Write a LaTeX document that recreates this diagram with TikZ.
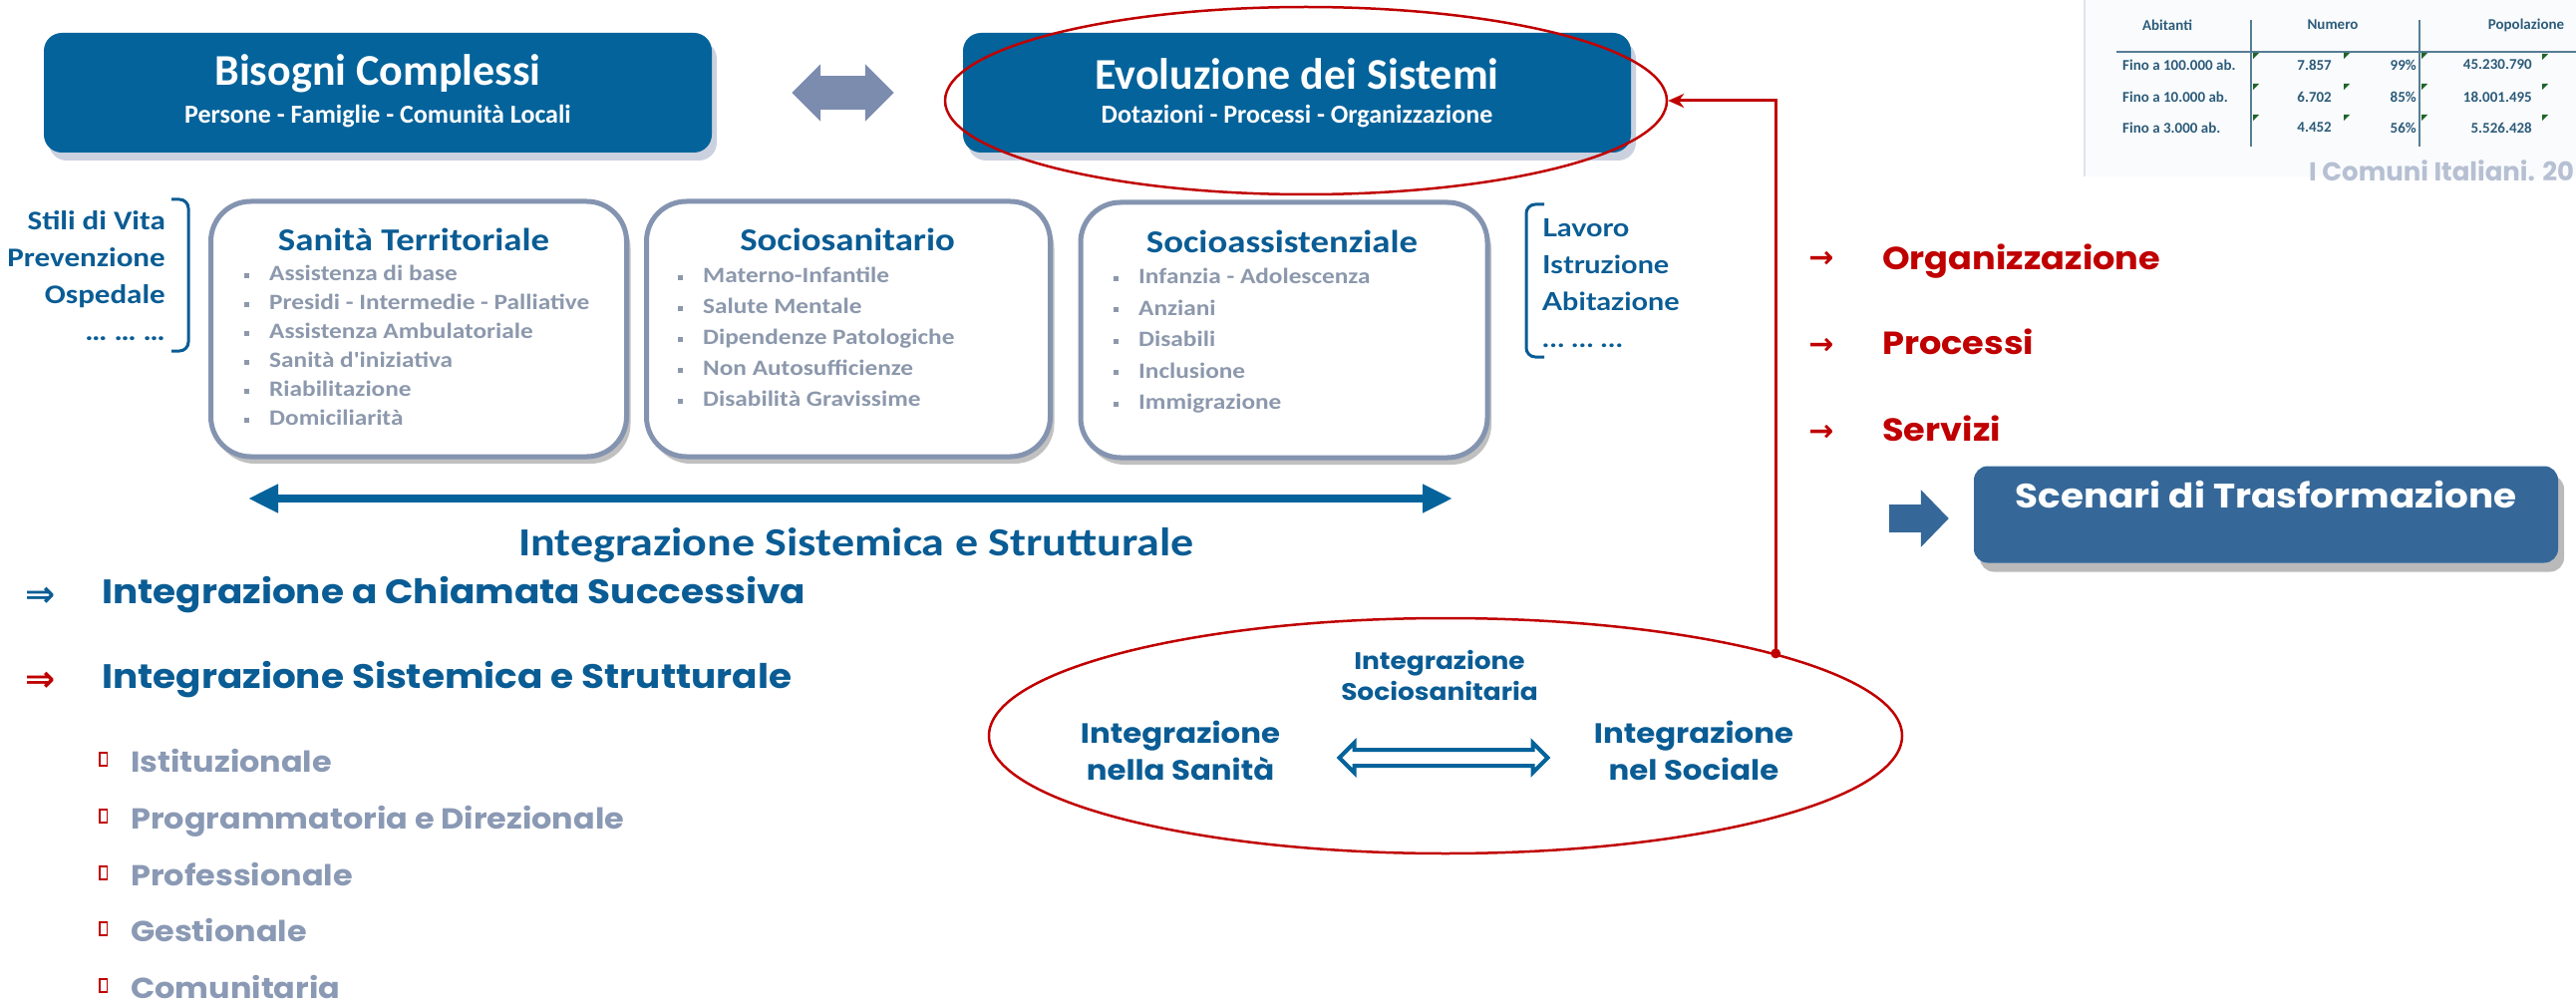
\documentclass[tikz,border=0pt]{standalone}
\usepackage{fontspec}
\setmainfont{Carlito}
\newfontfamily\widefont{Carlito}[FakeStretch=1.15]
\newfontfamily\popfont{Poppins}[FakeStretch=1.1]
\newfontfamily\popplain{Poppins}
\newfontfamily\latofont{Lato}[FakeStretch=1.15]
\newfontfamily\symfont{DejaVu Sans}
\usetikzlibrary{shapes.geometric,shapes.arrows,shadows,arrows.meta,positioning}
\tikzset{>=Stealth}
\definecolor{boxBlue}{RGB}{4,99,155}
\definecolor{titleBlue}{RGB}{10,92,148}
\definecolor{itemGrey}{RGB}{140,152,172}
\definecolor{frameGrey}{RGB}{132,148,176}
\definecolor{arrGrey}{RGB}{124,140,175}
\definecolor{darkRed}{RGB}{192,0,0}
\definecolor{scenBlue}{RGB}{53,104,153}
\definecolor{listGrey}{RGB}{138,153,180}
\definecolor{paleGrey}{RGB}{182,192,210}
\definecolor{tabText}{RGB}{44,92,122}
\definecolor{tabGreen}{RGB}{30,100,40}
\definecolor{tabPanel}{RGB}{250,251,253}
\definecolor{tabEdge}{RGB}{222,227,234}
\newcommand{\fs}[2]{\fontsize{#1}{#2}\selectfont}
\newcommand{\bul}{{\color{itemGrey}\rule[3pt]{5pt}{5pt}}\hspace{20pt}}
\newcommand{\redsq}{{\color{darkRed}\setlength{\fboxsep}{0pt}\setlength{\fboxrule}{1.6pt}\raisebox{7pt}{\framebox[9pt]{\rule{0pt}{11pt}}}}\hspace{23pt}}
\newcommand{\flag}[2]{\fill[tabGreen] (#1,#2) -- ++(6,0) -- ++(-6,6) -- cycle;}
\tikzset{
  topbox/.style={rectangle, rounded corners=18pt, fill=boxBlue, minimum width=670pt, minimum height=120pt,
    drop shadow={shadow xshift=5pt, shadow yshift=-8pt, fill=arrGrey, opacity=.4}},
  toptitle/.style={text=white, font=\bfseries\fs{44}{50}, inner sep=0pt},
  topsub/.style={text=white, font=\bfseries\fs{26}{30}, inner sep=0pt},
  areabox/.style={rectangle, rounded corners=40pt, draw=frameGrey, line width=5pt, fill=white, minimum height=256pt,
    drop shadow={shadow xshift=4pt, shadow yshift=-7pt, fill=black!55, opacity=.45}},
  areatitle/.style={text=titleBlue, font=\widefont\bfseries\fs{32}{37}, inner sep=0pt},
  arealist/.style={text=itemGrey, align=left, anchor=north west, inner sep=0pt},
  sidelist/.style={text=titleBlue, font=\widefont\bfseries\fs{27}{37}, inner sep=0pt},
  bracket/.style={draw=titleBlue, line width=3pt, rounded corners=9pt},
  ring/.style={ellipse, draw=darkRed, line width=2.5pt, inner sep=0pt},
  greylink/.style={draw=arrGrey, line width=34pt, {Triangle[length=29pt,width=56pt]}-{Triangle[length=29pt,width=56pt]}},
  biglink/.style={draw=boxBlue, line width=8pt, {Triangle[length=30pt,width=27pt]}-{Triangle[length=30pt,width=27pt]}},
  captionnode/.style={text=titleBlue, font=\widefont\bfseries\fs{40}{46}, inner sep=0pt},
  symnode/.style={font=\symfont\bfseries\fs{36}{36}, inner sep=0pt},
  mainitem/.style={anchor=base west, inner sep=0pt, text=titleBlue, font=\popfont\bfseries\fs{34}{40}},
  subitem/.style={anchor=base west, inner sep=0pt, text=listGrey, font=\popfont\bfseries\fs{29}{35}},
  inttext/.style={text=titleBlue, align=center, font=\popfont\bfseries\fs{28}{37}, inner sep=0pt},
  hollowarrow/.style={double arrow, draw=boxBlue, line width=4pt, fill=white, inner xsep=0pt, inner ysep=6pt,
    double arrow head extend=7pt, minimum height=209pt},
  redlink/.style={draw=darkRed, line width=3pt, -{Stealth[length=16pt,width=14pt]}},
  reditem/.style={anchor=base west, inner sep=0pt, text=darkRed, font=\popfont\bfseries\fs{32}{37}},
  scenbox/.style={rectangle, rounded corners=14pt, fill=scenBlue, minimum width=586pt, minimum height=97pt,
    drop shadow={shadow xshift=6pt, shadow yshift=-9pt, fill=black!60, opacity=.45}},
  scentitle/.style={text=white, font=\popfont\bfseries\fs{34}{40}, inner sep=0pt},
  scenlink/.style={draw=scenBlue, line width=28pt, -{Triangle[length=28pt,width=56pt]}},
  tabcell/.style={text=tabText, font=\bfseries\fs{15}{18}, inner sep=0pt},
  tabRule/.style={draw=tabText!80, line width=1.5pt},
  comuni/.style={anchor=base west, inner sep=0pt, text=paleGrey, font=\popplain\bfseries\fs{26}{30}}
}
\begin{document}
\begin{tikzpicture}[x=1pt,y=-1pt]
  \useasboundingbox (0,0) rectangle (2584,1011);

  % tabella comuni
  \fill[tabPanel] (2091,0) rectangle (2584,177);
  \draw[tabEdge, line width=1.5pt] (2091,0) -- (2091,177);
  \node[tabcell] (hAb) at (2174,25) {Abitanti};
  \node[tabcell] (hNum) at (2340,25) {Numero};
  \node[tabcell] (hPop) at (2534,25) {Popolazione};
  \draw[tabRule] (2123,52) -- (2584,52);
  \draw[tabRule] (2258,20) -- (2258,147);
  \draw[tabRule] (2427,20) -- (2427,147);
  \node[tabcell, anchor=west] (r1a) at (2129,65) {Fino a 100.000 ab.};
  \node[tabcell, anchor=east] (r1b) at (2339,65) {7.857};
  \node[tabcell, anchor=east] (r1c) at (2424,65) {99\%};
  \node[tabcell, anchor=east] (r1d) at (2540,65) {45.230.790};
  \node[tabcell, anchor=west] (r2a) at (2129,97) {Fino a 10.000 ab.};
  \node[tabcell, anchor=east] (r2b) at (2339,97) {6.702};
  \node[tabcell, anchor=east] (r2c) at (2424,97) {85\%};
  \node[tabcell, anchor=east] (r2d) at (2540,97) {18.001.495};
  \node[tabcell, anchor=west] (r3a) at (2129,128) {Fino a 3.000 ab.};
  \node[tabcell, anchor=east] (r3b) at (2339,128) {4.452};
  \node[tabcell, anchor=east] (r3c) at (2424,128) {56\%};
  \node[tabcell, anchor=east] (r3d) at (2540,128) {5.526.428};
  \flag{2260}{53}\flag{2351}{53}\flag{2429}{53}\flag{2550}{54}
  \flag{2260}{84}\flag{2351}{84}\flag{2429}{84}\flag{2550}{84}
  \flag{2260}{115}\flag{2351}{115}\flag{2429}{115}\flag{2550}{115}
  \node[comuni] (comuni) at (2316,182) {I Comuni Italiani. 20};

  % bisogni / evoluzione
  \node[topbox] (bisogni) at (379,93) {};
  \node[toptitle] (bisT) at (379,74) {Bisogni Complessi};
  \node[topsub] (bisS) at (379,117) {Persone - Famiglie - Comunità Locali};
  \node[topbox] (evoluzione) at (1301,93) {};
  \node[toptitle] (evoT) at (1301,74) {Evoluzione dei Sistemi};
  \node[topsub] (evoS) at (1301,117) {Dotazioni - Processi - Organizzazione};
  \draw[greylink] ([xshift=80pt]bisogni.east) -- ([xshift=-69pt]evoluzione.west);
  \node[ring, minimum width=724pt, minimum height=188pt] (evoEll) at (1310,101) {};

  % le tre aree
  \node[areabox, minimum width=417pt] (sanita) at (420,330) {};
  \node[areatitle] (sanT) at (415,240) {Sanità Territoriale};
  \node[arealist, font=\widefont\bfseries\fs{22}{29}] (sanL) at (245,266) {\bul Assistenza di base\\
    \bul Presidi - Intermedie - Palliative\\ \bul Assistenza Ambulatoriale\\
    \bul Sanità d'iniziativa\\ \bul Riabilitazione\\ \bul Domiciliarità};
  \node[areabox, minimum width=405pt] (socsan) at (851,330) {};
  \node[areatitle] (socsanT) at (850,240) {Sociosanitario};
  \node[arealist, font=\widefont\bfseries\fs{22}{31}] (socsanL) at (680,268) {\bul Materno-Infantile\\
    \bul Salute Mentale\\ \bul Dipendenze Patologiche\\ \bul Non Autosufficienze\\
    \bul Disabilità Gravissime};
  \node[areabox, minimum width=408pt] (socass) at (1288,331) {};
  \node[areatitle] (socassT) at (1286,242) {Socioassistenziale};
  \node[arealist, font=\widefont\bfseries\fs{22}{31.5}] (socassL) at (1117,269) {\bul Infanzia - Adolescenza\\
    \bul Anziani\\ \bul Disabili\\ \bul Inclusione\\ \bul Immigrazione};

  \node[sidelist, align=right, anchor=north east] (stili) at (166,211) {Stili di Vita\\Prevenzione\\Ospedale\\… … …};
  \draw[bracket] (172,200) -- (189,200) -- (189,352) -- (172,352);
  \node[sidelist, font=\latofont\bfseries\fs{25}{37}, align=left, anchor=north west] (lavoro) at (1547,219) {Lavoro\\Istruzione\\Abitazione\\… … …};
  \draw[bracket] (1549,205) -- (1531,205) -- (1531,358) -- (1549,358);

  \coordinate (intL) at (249,500);
  \coordinate (intR) at (1457,500);
  \draw[biglink] (intL) -- (intR);
  \node[captionnode] (intCap) at (859,547) {Integrazione Sistemica e Strutturale};

  % elenco a sinistra
  \node[symnode, text=titleBlue] (impl1) at (41,599) {⇒};
  \node[mainitem] (chiamata) at (102,605) {Integrazione a Chiamata Successiva};
  \node[symnode, text=darkRed] (impl2) at (41,684) {⇒};
  \node[mainitem] (sistemica) at (102,690) {Integrazione Sistemica e Strutturale};
  \node[subitem] (istit) at (99,774) {\redsq Istituzionale};
  \node[subitem] (progr) at (99,831) {\redsq Programmatoria e Direzionale};
  \node[subitem] (profe) at (99,888) {\redsq Professionale};
  \node[subitem] (gesti) at (99,944) {\redsq Gestionale};
  \node[subitem] (comun) at (99,1001) {\redsq Comunitaria};

  % integrazione
  \node[ring, minimum width=916pt, minimum height=236pt] (lowEll) at (1450,738) {};
  \node[inttext, font=\popfont\bfseries\fs{24}{31}] (socios) at (1444,677) {Integrazione\\Sociosanitaria};
  \node[inttext] (nellaSan) at (1184,753) {Integrazione\\nella Sanità};
  \node[inttext] (nelSoc) at (1699,753) {Integrazione\\nel Sociale};
  \node[hollowarrow] (sanSoc) at (1448,760) {};
  \coordinate (dot) at (lowEll.14);
  \draw[redlink] (dot) |- (evoEll.east);
  \fill[darkRed] (dot) circle (5pt);

  % scenari
  \node[symnode, text=darkRed, font=\symfont\bfseries\fs{30}{30}] (to1) at (1827,260) {→};
  \node[reditem] (organ) at (1888,270) {Organizzazione};
  \node[symnode, text=darkRed, font=\symfont\bfseries\fs{30}{30}] (to2) at (1827,347) {→};
  \node[reditem] (proc) at (1888,355) {Processi};
  \node[symnode, text=darkRed, font=\symfont\bfseries\fs{30}{30}] (to3) at (1827,434) {→};
  \node[reditem] (serv) at (1888,442) {Servizi};
  \node[scenbox] (scenari) at (2273,516) {};
  \node[scentitle] (scenT) at (2273,496) {Scenari di Trasformazione};
  \coordinate (scenFrom) at (1895,520);
  \draw[scenlink, shorten >=25pt] (scenFrom) -- (scenFrom -| scenari.west);
\end{tikzpicture}
\end{document}
